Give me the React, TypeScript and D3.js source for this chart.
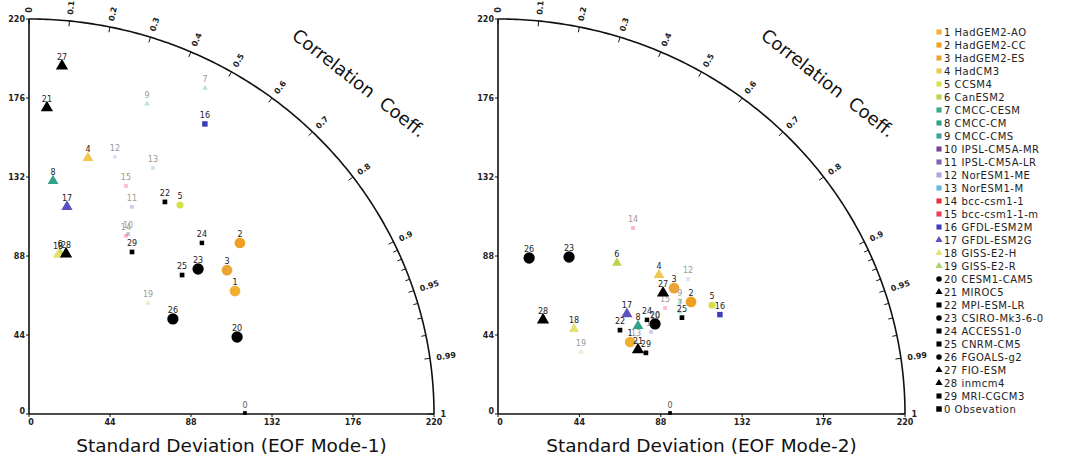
import React from "react";
import * as d3 from "d3";

// ---------- data ----------
const MODEL_NAMES = [
  "HadGEM2-AO", "HadGEM2-CC", "HadGEM2-ES", "HadCM3", "CCSM4", "CanESM2",
  "CMCC-CESM", "CMCC-CM", "CMCC-CMS", "IPSL-CM5A-MR", "IPSL-CM5A-LR",
  "NorESM1-ME", "NorESM1-M", "bcc-csm1-1", "bcc-csm1-1-m", "GFDL-ESM2M",
  "GFDL-ESM2G", "GISS-E2-H", "GISS-E2-R", "CESM1-CAM5", "MIROC5",
  "MPI-ESM-LR", "CSIRO-Mk3-6-0", "ACCESS1-0", "CNRM-CM5", "FGOALS-g2",
  "FIO-ESM", "inmcm4", "MRI-CGCM3",
];
const OBS_NAME = "Obsevation";

const MODE1_STD = [131.2, 149.0, 134.1, 146.2, 142.4, 91.3, 205.2, 130.5, 184.2, 113.8,
  128.2, 150.6, 152.7, 112.3, 137.5, 187.7, 117.2, 90.0, 89.4, 120.9,
  170.8, 139.3, 122.3, 133.8, 113.6, 94.4, 194.7, 91.4, 106.2];
const MODE1_CORR = [0.853, 0.769, 0.802, 0.219, 0.576, 0.184, 0.466, 0.100, 0.348, 0.473,
  0.436, 0.310, 0.441, 0.469, 0.383, 0.509, 0.176, 0.175, 0.723, 0.935,
  0.057, 0.530, 0.751, 0.702, 0.732, 0.828, 0.092, 0.220, 0.527];
const MODE1_OBS_STD = 117.3;

const MODE2_STD = [81.9, 121.6, 118.2, 116.5, 130.6, 105.9, 113.6, 90.2, 116.5, 98.3,
  94.5, 127.3, 84.7, 126.7, 107.9, 132.1, 89.2, 62.7, 56.6, 98.6,
  83.7, 80.8, 95.5, 96.1, 113.0, 88.5, 111.8, 57.8, 86.9];
const MODE2_CORR = [0.872, 0.858, 0.805, 0.747, 0.886, 0.607, 0.866, 0.839, 0.844, 0.863,
  0.875, 0.807, 0.881, 0.576, 0.837, 0.908, 0.781, 0.655, 0.792, 0.861,
  0.904, 0.816, 0.402, 0.838, 0.880, 0.190, 0.798, 0.421, 0.920];
const MODE2_OBS_STD = 93.0;

const STD_TICKS = [0, 44, 88, 132, 176, 220];
const CORR_TICKS = [0, 0.1, 0.2, 0.3, 0.4, 0.5, 0.6, 0.7, 0.8, 0.9, 0.95, 0.99, 1];
const CORR_MINOR = [0.91, 0.92, 0.93, 0.94, 0.96, 0.97, 0.98];
const STD_MAX = 220;

// ---------- styles ----------
const COLORS = [
  "#f0b030", "#f0a020", "#eba334", "#f0c850", "#d6e04a", "#bcd44c",
  "#3caa7a", "#2fa38a", "#3aa5a0", "#7b3fa0", "#8060b0", "#a9a9e6",
  "#63b7e3", "#e8303f", "#f04058", "#3d3dbb", "#5a50c0", "#e6e070",
  "#a8d860", "#000", "#000", "#000", "#000", "#000", "#000", "#000",
  "#000", "#000", "#000",
];
// shape: c = circle, t = triangle, s = square ; size = symbol area
const SHAPES = ["c", "c", "c", "t", "c", "t", "t", "t", "t", "s", "s", "s", "s", "s", "s", "s",
  "t", "t", "t", "c", "t", "s", "c", "s", "s", "c", "t", "t", "s"];
const SIZES = [90, 90, 90, 50, 40, 40, 30, 50, 30, 30, 30, 20, 20, 20, 20, 30,
  55, 45, 30, 100, 65, 22, 100, 20, 22, 100, 65, 65, 22];
const FAINT = new Set([7, 9, 10, 11, 12, 13, 14, 15, 19]);
const FONT = "DejaVu Sans, sans-serif";
const TOP = 19, BOTTOM = 414;

const PANELS = [
  { std: MODE1_STD, corr: MODE1_CORR, obs: MODE1_OBS_STD, title: "Standard Deviation (EOF Mode-1)", left: 29, right: 434 },
  { std: MODE2_STD, corr: MODE2_CORR, obs: MODE2_OBS_STD, title: "Standard Deviation (EOF Mode-2)", left: 498, right: 905 },
];

function symPath(shape: string, size: number) {
  const type = shape === "c" ? d3.symbolCircle : shape === "t" ? d3.symbolTriangle : d3.symbolSquare;
  return d3.symbol().type(type).size(size)() as string;
}

function Panel({ p }: { p: any }) {
  const x = d3.scaleLinear().domain([0, STD_MAX]).range([p.left, p.right]);
  const y = d3.scaleLinear().domain([0, STD_MAX]).range([BOTTOM, TOP]);
  const pos = (s: number, c: number): [number, number] => [x(s * c), y(s * Math.sqrt(Math.max(0, 1 - c * c)))];
  const arcPts = d3.range(0, 181).map((d) => pos(STD_MAX, Math.cos((d / 2) * Math.PI / 180)));
  const arc = d3.line()(arcPts) as string;

  const corrTick = (c: number, r0: number, r1: number) => {
    const a = pos(r0, c), b = pos(r1, c);
    return { x1: a[0], y1: a[1], x2: b[0], y2: b[1] };
  };

  const points = p.std.map((s: number, i: number) => {
    const [px, py] = pos(s, p.corr[i]);
    return { id: i + 1, px, py };
  });

  return (
    <g>
      <line x1={x(0)} y1={y(0)} x2={x(0)} y2={y(STD_MAX)} stroke="#111" strokeWidth={1.6} />
      <line x1={x(0)} y1={y(0)} x2={x(STD_MAX)} y2={y(0)} stroke="#111" strokeWidth={1.6} />
      <path d={arc} fill="none" stroke="#111" strokeWidth={1.6} />

      {STD_TICKS.map((v) => (
        <g key={"y" + v}>
          <line x1={x(0) - 3} x2={x(0)} y1={y(v)} y2={y(v)} stroke="#111" />
          <text x={x(0) - 4} y={v === 0 ? y(v) - 3 : y(v)} dy="0.35em" textAnchor="end" fontSize={8} fontFamily={FONT} fontWeight="bold" fill="#222">{v}</text>
        </g>
      ))}
      {STD_TICKS.map((v) => (
        <g key={"x" + v}>
          <line x1={x(v)} x2={x(v)} y1={y(0)} y2={y(0) + 3} stroke="#111" />
          <text x={x(v) + (v === 0 ? 2 : 0)} y={y(0) + 8} dy="0.35em" textAnchor="middle" fontSize={8} fontFamily={FONT} fontWeight="bold" fill="#222">{v}</text>
        </g>
      ))}

      {CORR_TICKS.map((c) => {
        const t = corrTick(c, STD_MAX - 3, STD_MAX);
        const [lx, ly] = pos(STD_MAX + 3.5, c);
        const ang = Math.atan2(y(0) - ly, lx - x(0)) * 180 / Math.PI;
        return (
          <g key={"c" + c}>
            <line {...t} stroke="#111" />
            <text transform={`translate(${lx},${ly}) rotate(${-ang})`} dy="0.35em" fontSize={8} fontFamily={FONT} fontWeight="bold" fill="#222">{c}</text>
          </g>
        );
      })}
      {CORR_MINOR.map((c) => (
        <line key={"m" + c} {...corrTick(c, STD_MAX - 2.5, STD_MAX)} stroke="#111" />
      ))}

      <text transform={`translate(${x(0) + 330},${83}) rotate(38)`} dy="0.35em" textAnchor="middle" fontSize={18} fontFamily={FONT} fill="#111" style={{ whiteSpace: "pre" }}>{"Correlation  Coeff."}</text>
      <text x={(x(0) + x(STD_MAX)) / 2} y={452} textAnchor="middle" fontSize={18.5} fontFamily={FONT} fill="#111">{p.title}</text>

      <path d={symPath("s", 14)} transform={`translate(${x(p.obs)},${y(0) - 1})`} fill="#000" />
      <text x={x(p.obs)} y={y(0) - 6} textAnchor="middle" fontSize={8} fontFamily={FONT} fill="#555">0</text>

      {points.map((d: any) => {
        const i = d.id - 1;
        const faint = FAINT.has(d.id);
        return (
          <g key={d.id} transform={`translate(${d.px},${d.py})`}>
            <path d={symPath(SHAPES[i], faint ? 14 : SIZES[i])} fill={COLORS[i]} opacity={faint ? 0.35 : 1} />
            <text y={-6} textAnchor="middle" fontSize={8} fontFamily={FONT} fill={faint ? "#999" : "#222"}>{d.id}</text>
          </g>
        );
      })}
    </g>
  );
}

function Legend() {
  const LX = 939, LY = 32, STEP = 13;
  const legendSize = (i: number) => (SHAPES[i] === "c" ? 24 : SHAPES[i] === "t" ? 22 : 26);
  return (
    <g>
      {MODEL_NAMES.map((name, i) => (
        <g key={name} transform={`translate(${LX},${LY + i * STEP})`}>
          <path d={symPath(i < 16 ? "s" : SHAPES[i], i < 16 ? 26 : legendSize(i))} fill={COLORS[i]} />
          <text x={5} dy="0.35em" fontSize={10} letterSpacing={0.5} fontFamily={FONT} fill="#222">{`${i + 1} ${name}`}</text>
        </g>
      ))}
      <g transform={`translate(${LX},${LY + MODEL_NAMES.length * STEP})`}>
        <path d={symPath("s", 30)} fill="#000" />
        <text x={5} dy="0.35em" fontSize={10} letterSpacing={0.5} fontFamily={FONT} fill="#222">{`0 ${OBS_NAME}`}</text>
      </g>
    </g>
  );
}

export default function App() {
  return (
    <svg width={1068} height={467} style={{ position: "absolute", left: 0, top: 0, background: "#fff" }}>
      <rect width={1068} height={467} fill="#fff" />
      {PANELS.map((p, k) => <Panel key={k} p={p} />)}
      <Legend />
    </svg>
  );
}
